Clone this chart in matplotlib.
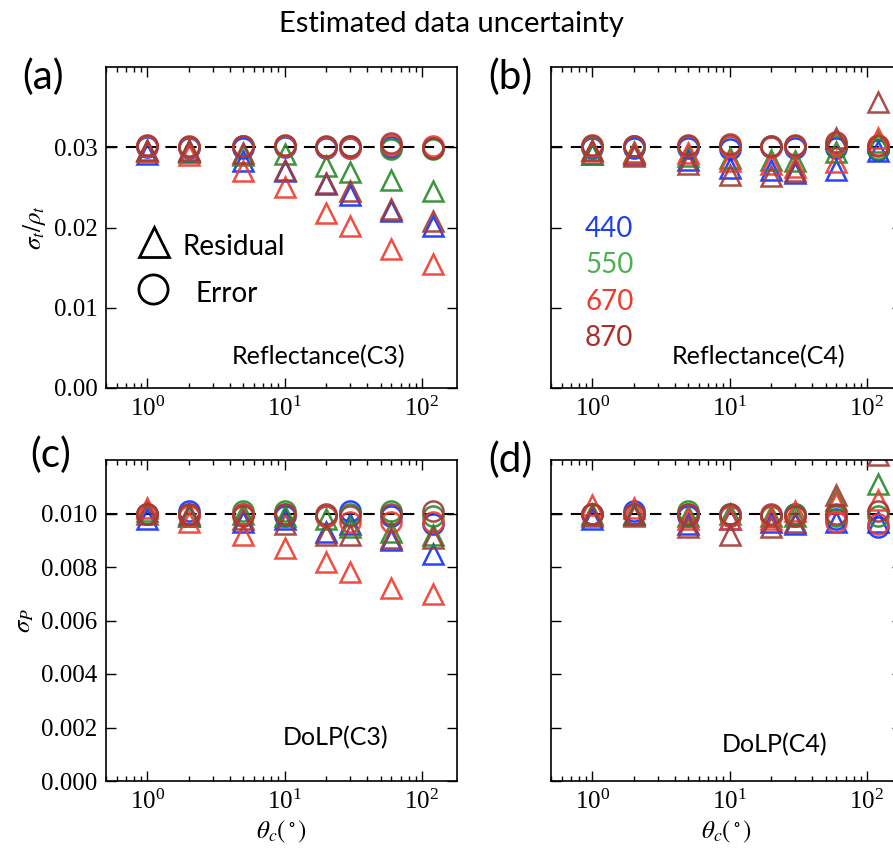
import numpy as np
import matplotlib.pyplot as plt
from matplotlib.ticker import FormatStrFormatter

plt.rcParams['font.family'] = 'serif'
plt.rcParams['font.serif'] = ['Liberation Serif', 'DejaVu Serif']
plt.rcParams['mathtext.fontset'] = 'stix'
sans = ['Lato', 'DejaVu Sans']

theta = [1, 2, 5, 10, 20, 30, 60, 120]
bands = ['440', '550', '670', '870']
mk_colors = ['#1030ff', '#2a8a2a', '#f03a2c', '#a13a36']
txt_colors = ['#1a40f0', '#4caf50', '#f03a2a', '#b02a2a']

# rows: 440, 550, 670, 870
res_a = [[0.0292, 0.0294, 0.0283, 0.0270, 0.0254, 0.0241, 0.0221, 0.0202],
         [0.0295, 0.0295, 0.0290, 0.0291, 0.0277, 0.0269, 0.0259, 0.0246],
         [0.0295, 0.0290, 0.0270, 0.0250, 0.0218, 0.0202, 0.0173, 0.0155],
         [0.0297, 0.0297, 0.0293, 0.0272, 0.0256, 0.0245, 0.0223, 0.0208]]
err_a = [[0.0300, 0.0299, 0.0299, 0.0300, 0.0299, 0.0299, 0.0300, 0.0299],
         [0.0301, 0.0300, 0.0301, 0.0302, 0.0300, 0.0301, 0.0298, 0.0298],
         [0.0302, 0.0300, 0.0302, 0.0302, 0.0300, 0.0299, 0.0303, 0.0301],
         [0.0303, 0.0302, 0.0302, 0.0303, 0.0301, 0.0301, 0.0305, 0.0299]]

res_b = [[0.0291, 0.0292, 0.0284, 0.0274, 0.0272, 0.0268, 0.0272, 0.0295],
         [0.0292, 0.0294, 0.0289, 0.0287, 0.0284, 0.0283, 0.0294, 0.0307],
         [0.0295, 0.0293, 0.0293, 0.0283, 0.0279, 0.0276, 0.0281, 0.0311],
         [0.0297, 0.0289, 0.0279, 0.0266, 0.0264, 0.0271, 0.0312, 0.0357]]
err_b = [[0.0299, 0.0299, 0.0299, 0.0298, 0.0300, 0.0299, 0.0299, 0.0297],
         [0.0300, 0.0301, 0.0301, 0.0302, 0.0301, 0.0302, 0.0301, 0.0298],
         [0.0301, 0.0301, 0.0302, 0.0301, 0.0300, 0.0301, 0.0304, 0.0303],
         [0.0303, 0.0302, 0.0303, 0.0304, 0.0302, 0.0303, 0.0306, 0.0302]]

res_c = [[0.0098, 0.0099, 0.0097, 0.0098, 0.0093, 0.0096, 0.0090, 0.0085],
         [0.0101, 0.0099, 0.0100, 0.0099, 0.0098, 0.0095, 0.0093, 0.0092],
         [0.0102, 0.0097, 0.0092, 0.0087, 0.0082, 0.0078, 0.0072, 0.0070],
         [0.0100, 0.0100, 0.0098, 0.0096, 0.0092, 0.0092, 0.0091, 0.0091]]
err_c = [[0.0100, 0.0101, 0.0100, 0.0099, 0.0099, 0.0101, 0.0099, 0.0096],
         [0.0100, 0.0100, 0.0101, 0.0101, 0.0099, 0.0100, 0.0101, 0.0099],
         [0.0100, 0.0099, 0.0100, 0.0100, 0.0099, 0.0097, 0.0097, 0.0097],
         [0.0100, 0.0100, 0.0099, 0.0100, 0.0100, 0.0099, 0.0100, 0.0101]]

res_d = [[0.0098, 0.0100, 0.0096, 0.0098, 0.0097, 0.0096, 0.0097, 0.0097],
         [0.0100, 0.0100, 0.0099, 0.0100, 0.0099, 0.0099, 0.0105, 0.0111],
         [0.0103, 0.0102, 0.0098, 0.0098, 0.0098, 0.0101, 0.0104, 0.0105],
         [0.0099, 0.0099, 0.0095, 0.0092, 0.0095, 0.0097, 0.0107, 0.0122]]
err_d = [[0.0100, 0.0101, 0.0099, 0.0099, 0.0099, 0.0100, 0.0098, 0.0095],
         [0.0100, 0.0100, 0.0101, 0.0100, 0.0099, 0.0100, 0.0099, 0.0099],
         [0.0100, 0.0100, 0.0100, 0.0099, 0.0099, 0.0099, 0.0097, 0.0096],
         [0.0100, 0.0100, 0.0100, 0.0100, 0.0100, 0.0099, 0.0100, 0.0101]]

W, H = 893, 856
fig = plt.figure(figsize=(W / 100, H / 100), dpi=100)


def box(l, t, r, b):
    return [l / W, 1 - b / H, (r - l) / W, (b - t) / H]


ax_a = fig.add_axes(box(106, 67, 457, 388))
ax_b = fig.add_axes(box(551, 67, 902, 388))
ax_c = fig.add_axes(box(106, 460, 457, 781))
ax_d = fig.add_axes(box(551, 460, 902, 781))

panels = [(ax_a, res_a, err_a, 0.03, 0.04, np.arange(0, 0.031, 0.01), '%.2f', 'Reflectance(C3)'),
          (ax_b, res_b, err_b, 0.03, 0.04, np.arange(0, 0.031, 0.01), '%.2f', 'Reflectance(C4)'),
          (ax_c, res_c, err_c, 0.01, 0.012, np.arange(0, 0.0101, 0.002), '%.3f', 'DoLP(C3)'),
          (ax_d, res_d, err_d, 0.01, 0.012, np.arange(0, 0.0101, 0.002), '%.3f', 'DoLP(C4)')]

for ax, res, err, ref, ytop, yt, fmt, name in panels:
    ax.axhline(ref, color='k', lw=1.5, dashes=(5.5, 4), zorder=1)
    for i in range(4):
        ax.plot(theta, res[i], '^', ms=14.5, mfc='none', mec=mk_colors[i], mew=1.8, alpha=0.9)
        ax.plot(theta, err[i], 'o', ms=14.5, mfc='none', mec=mk_colors[i], mew=1.8, alpha=0.9)
    ax.set_xscale('log')
    ax.set_xlim(0.5, 180)
    ax.set_ylim(0, ytop)
    ax.set_yticks(yt)
    ax.yaxis.set_major_formatter(FormatStrFormatter(fmt))
    ax.tick_params(which='both', direction='in', top=True, right=True, labelsize=18, width=1)
    ax.tick_params(which='major', length=7, pad=6)
    ax.tick_params(which='minor', length=3.5)
    for sp in ax.spines.values():
        sp.set_linewidth(1.2)

for ax in (ax_b, ax_d):
    ax.tick_params(labelleft=False)
for ax in (ax_c, ax_d):
    ax.set_xlabel(r'$\theta_c(^\circ)$', fontsize=18)

ax_a.set_ylabel(r'$\sigma_t/\rho_t$', fontsize=18)
ax_c.set_ylabel(r'$\sigma_P$', fontsize=18)

ax_a.text(0.359, 0.097, 'Reflectance(C3)', transform=ax_a.transAxes, family=sans,
          fontsize=18, va='center', ha='left')
ax_b.text(0.345, 0.097, 'Reflectance(C4)', transform=ax_b.transAxes, family=sans,
          fontsize=18, va='center', ha='left')
ax_c.text(0.504, 0.134, 'DoLP(C3)', transform=ax_c.transAxes, family=sans,
          fontsize=18, va='center', ha='left')
ax_d.text(0.487, 0.112, 'DoLP(C4)', transform=ax_d.transAxes, family=sans,
          fontsize=18, va='center', ha='left')

# marker key in (a)
ax_a.plot([0.137], [0.455], '^', ms=22, mfc='none', mec='k', mew=2, transform=ax_a.transAxes)
ax_a.plot([0.135], [0.308], 'o', ms=21, mfc='none', mec='k', mew=2, transform=ax_a.transAxes)
ax_a.text(0.219, 0.439, 'Residual', transform=ax_a.transAxes, family=sans, fontsize=20, va='center')
ax_a.text(0.254, 0.293, 'Error', transform=ax_a.transAxes, family=sans, fontsize=20, va='center')

# wavelength key in (b)
for i, (lab, yy) in enumerate(zip(bands, [0.495, 0.383, 0.268, 0.156])):
    ax_b.text(0.097, yy, lab, transform=ax_b.transAxes, family=sans, fontsize=20,
              va='center', color=txt_colors[i])

for lab, x, y in [('(a)', 22, 77), ('(b)', 488, 77), ('(c)', 30, 455), ('(d)', 488, 460)]:
    fig.text(x / W, 1 - y / H, lab, family=sans, fontsize=29, va='center', ha='left')

fig.text(451 / W, 1 - 24 / H, 'Estimated data uncertainty', family=sans, fontsize=21,
         va='center', ha='center')

plt.savefig('out.png', dpi=100)
plt.close()
